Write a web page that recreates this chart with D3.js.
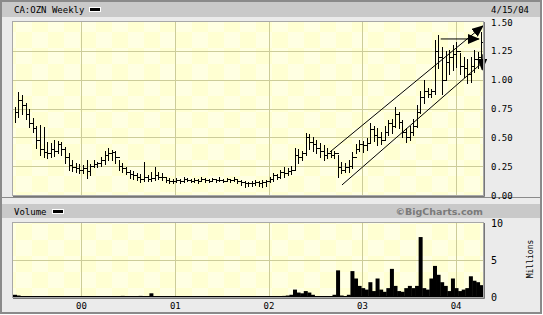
<!DOCTYPE html>
<html>
<head>
<meta charset="utf-8">
<script src="https://cdn.jsdelivr.net/npm/d3@7"></script>
<style>
  body { margin: 0; background: #fff; }
  svg { display: block; }
  text { font-family: "DejaVu Sans Mono", monospace; font-size: 9px; fill: #000; }
</style>
</head>
<body>
<svg width="543" height="315"></svg>
<script>
// weekly chart, one bar every two weeks
const startDate = new Date(1999, 3, 16);

const priceHigh = [
  .76,.89,.87,.80,.75,.67,.60,.61,.59,.46,.45,.48,.47,.46,.42,.36,.30,.28,.27,
  .26,.30,.27,.30,.29,.33,.38,.41,.39,.38,.30,.28,.24,.22,.21,.19,.18,.29,.17,.20,.24,.20,.19,.16,.15,.14,
  .15,.14,.16,.15,.14,.15,.14,.16,.15,.14,.15,.14,.16,.14,.15,.14,.16,.14,.13,.12,.11,.12,.13,.12,.13,.13,
  .16,.19,.18,.22,.24,.23,.25,.41,.40,.38,.54,.53,.50,.48,.45,.43,.41,.39,.38,.35,.29,.28,.30,.37,.44,.48,
  .47,.49,.62,.60,.58,.55,.60,.65,.66,.76,.72,.65,.58,.60,.66,.78,.90,1.00,.93,.92,1.34,1.39,1.28,1.25,1.26,1.30,
  1.33,1.23,1.20,1.18,1.20,1.26,1.24,1.41
];
const priceLow = [
  .63,.68,.70,.66,.59,.55,.41,.35,.33,.32,.33,.34,.36,.35,.28,.22,.21,.20,.19,
  .19,.15,.17,.24,.24,.25,.27,.30,.30,.28,.22,.20,.18,.15,.14,.13,.11,.12,.12,.12,.13,.14,.13,.11,.10,.10,
  .11,.10,.11,.12,.11,.11,.10,.12,.11,.11,.12,.11,.12,.11,.12,.11,.12,.10,.09,.07,.08,.08,.09,.08,.07,.08,
  .11,.12,.14,.15,.16,.17,.18,.22,.28,.30,.35,.40,.38,.36,.33,.30,.32,.33,.32,.16,.19,.20,.20,.23,.36,.38,
  .37,.39,.45,.47,.43,.44,.48,.52,.54,.59,.58,.50,.46,.48,.52,.59,.71,.80,.85,.85,.88,1.10,.88,1.00,1.05,1.08,
  1.11,1.05,1.02,.97,.98,1.07,1.10,1.15
];
const priceClose = [
  .72,.82,.78,.70,.62,.58,.48,.40,.37,.36,.40,.38,.44,.40,.33,.26,.24,.23,.22,
  .23,.21,.25,.27,.28,.30,.35,.36,.37,.33,.25,.23,.20,.18,.17,.16,.14,.16,.14,.15,.17,.16,.16,.13,.12,.12,
  .13,.12,.14,.13,.12,.13,.12,.14,.13,.12,.14,.13,.13,.12,.14,.13,.14,.12,.11,.10,.10,.10,.11,.10,.11,.12,
  .14,.17,.16,.20,.19,.21,.22,.35,.33,.36,.50,.46,.44,.41,.38,.35,.36,.35,.36,.24,.22,.24,.25,.33,.40,.44,
  .43,.45,.57,.52,.50,.48,.55,.62,.60,.70,.63,.55,.50,.55,.60,.72,.85,.90,.88,.90,1.25,1.20,1.00,1.15,1.20,1.22,
  1.25,1.12,1.10,1.05,1.12,1.18,1.20,1.33
];
// millions of shares
const volume = [
  .3,.2,.1,.05,.05,.05,.05,.05,.05,.05,.05,.05,.05,.05,.05,.05,.1,.05,.05,
  .05,.05,.05,.05,.05,.05,.05,.05,.05,.05,.05,.15,.05,.05,.05,.05,.15,.05,.05,.5,.05,.05,.05,.05,.05,.05,
  .1,.05,.05,.05,.05,.05,.05,.05,.05,.05,.05,.05,.05,.05,.05,.05,.05,.05,.05,.05,.05,.05,.05,.05,.05,.05,
  .05,.05,.1,.1,.15,.2,.3,1.0,.6,.5,.8,.6,.3,.1,.1,.05,.1,.1,.3,3.6,.2,.1,.3,3.5,2.5,1.5,
  1.2,1.0,2.0,.8,2.5,1.0,.7,1.2,3.8,1.5,.8,.7,1.2,1.5,1.2,1.5,8.1,1.2,1.0,2.5,4.2,3.0,2.0,1.5,.8,2.5,
  1.2,.8,1.0,1.2,2.8,2.2,2.0,1.6
];

const priceTicks = [0, 0.25, 0.5, 0.75, 1.0, 1.25, 1.5];
const volumeTicks = [0, 5, 10];
const yearTicks = [new Date(2000, 0, 1), new Date(2001, 0, 1), new Date(2002, 0, 1), new Date(2003, 0, 1), new Date(2004, 0, 1)];
const yearLabels = ['00', '01', '02', '03', '04'];

// channel drawn on the chart: [date, price] pairs
const upperTrend = [[new Date(2002, 7, 27), 0.373], [new Date(2004, 3, 15), 1.466]];
const lowerTrend = [[new Date(2002, 9, 13), 0.087], [new Date(2004, 3, 11), 1.145]];
const flatArrow = [[new Date(2003, 10, 2), 1.353], [new Date(2004, 2, 30), 1.353]];
const downArrow = [[new Date(2004, 3, 12), 1.22], [new Date(2004, 3, 12), 1.085]];

const dates = d3.range(priceClose.length).map(i => d3.timeDay.offset(startDate, 14 * i));

const svg = d3.select('svg');
const W = 543, H = 315;

// frame + bands
svg.append('rect').attr('x', 0).attr('y', 0).attr('width', W).attr('height', H).attr('fill', '#fff');
svg.append('rect').attr('x', 1).attr('y', 1).attr('width', 540).attr('height', 312)
  .attr('fill', '#ebebeb').attr('stroke', '#8a8a8a').attr('stroke-width', 2);
svg.append('rect').attr('x', 2).attr('y', 2).attr('width', 538).attr('height', 15).attr('fill', '#c9c9c9');
svg.append('line').attr('x1', 2).attr('x2', 540).attr('y1', 197.5).attr('y2', 197.5).attr('stroke', '#8a8a8a');
svg.append('rect').attr('x', 2).attr('y', 204).attr('width', 538).attr('height', 14).attr('fill', '#c9c9c9');

// background pattern
const defs = svg.append('defs');
const pat = defs.append('pattern').attr('id', 'chk').attr('patternUnits', 'userSpaceOnUse')
  .attr('width', 32).attr('height', 32);
pat.append('rect').attr('width', 32).attr('height', 32).attr('fill', '#ffffd2');
pat.append('rect').attr('width', 16).attr('height', 16).attr('fill', '#ffffe2');
pat.append('rect').attr('x', 16).attr('y', 16).attr('width', 16).attr('height', 16).attr('fill', '#ffffe2');

const mk = defs.append('marker').attr('id', 'arr').attr('viewBox', '0 0 12 10')
  .attr('refX', 11).attr('refY', 5).attr('markerWidth', 12).attr('markerHeight', 10)
  .attr('markerUnits', 'userSpaceOnUse').attr('orient', 'auto');
mk.append('path').attr('d', 'M0,0L12,5L0,10Z').attr('fill', '#000');

const left = 13, right = 483;
const x = d3.scaleTime().domain([new Date(1999, 3, 9), new Date(2004, 3, 15)]).range([left, right]);
const yP = d3.scaleLinear().domain([0, 1.5]).range([195, 22]);
const yV = d3.scaleLinear().domain([0, 10]).range([297, 223]);

const panel = (y0, y1, yScale, ticks) => {
  const g = svg.append('g');
  g.append('rect').attr('x', left).attr('y', y0).attr('width', right - left).attr('height', y1 - y0)
    .attr('fill', 'url(#chk)');
  g.selectAll('.hg').data(ticks).enter().append('line')
    .attr('x1', left).attr('x2', right)
    .attr('y1', d => Math.round(yScale(d)) + 0.5).attr('y2', d => Math.round(yScale(d)) + 0.5)
    .attr('stroke', '#cccc99');
  g.selectAll('.vg').data(yearTicks).enter().append('line')
    .attr('x1', d => Math.round(x(d)) + 0.5).attr('x2', d => Math.round(x(d)) + 0.5)
    .attr('y1', y0).attr('y2', y1)
    .attr('stroke', '#cccc99');
  return g;
};

const priceG = panel(22, 195, yP, priceTicks.slice(1, -1));
const volG = panel(223, 297, yV, [5]);

// price bars
const bars = priceG.append('g').attr('stroke', '#000').attr('stroke-width', 1).attr('shape-rendering', 'crispEdges');
dates.forEach((d, i) => {
  const cx = Math.round(x(d)) + 0.5;
  bars.append('line').attr('x1', cx).attr('x2', cx)
    .attr('y1', yP(priceHigh[i])).attr('y2', yP(priceLow[i]) + 1);
  bars.append('line').attr('x1', cx).attr('x2', cx + 2)
    .attr('y1', Math.round(yP(priceClose[i])) + 0.5).attr('y2', Math.round(yP(priceClose[i])) + 0.5);
  if (i > 0) {
    bars.append('line').attr('x1', cx - 2).attr('x2', cx)
      .attr('y1', Math.round(yP(priceClose[i - 1])) + 0.5).attr('y2', Math.round(yP(priceClose[i - 1])) + 0.5);
  }
});

// channel + arrows
const line = d3.line().x(d => x(d[0])).y(d => yP(d[1]));
[upperTrend, lowerTrend].forEach(t => {
  svg.append('path').attr('d', line(t)).attr('fill', 'none').attr('stroke', '#000').attr('stroke-width', 1);
});
svg.append('path').attr('d', line(upperTrend)).attr('fill', 'none').attr('stroke', 'none')
  .attr('marker-end', 'url(#arr)');
[flatArrow, downArrow].forEach(t => {
  svg.append('path').attr('d', line(t)).attr('fill', 'none').attr('stroke', '#000').attr('stroke-width', 1)
    .attr('marker-end', 'url(#arr)');
});

// volume bars
const step = x(dates[1]) - x(dates[0]);
volG.selectAll('.vb').data(volume).enter().append('rect')
  .attr('x', (d, i) => x(dates[i]) - step / 2)
  .attr('width', step + 0.4)
  .attr('y', d => yV(d))
  .attr('height', d => yV(0) - yV(d))
  .attr('fill', '#000');
volG.append('line').attr('x1', left).attr('x2', right).attr('y1', 296.5).attr('y2', 296.5)
  .attr('stroke', '#000');

// plot borders
[[22, 195], [223, 297]].forEach(([a, b]) => {
  svg.append('rect').attr('x', left - 0.5).attr('y', a - 0.5).attr('width', right - left + 1).attr('height', b - a + 1)
    .attr('fill', 'none').attr('stroke', '#a8a8a8');
  svg.append('path').attr('d', `M${left},${b + 1.5}H${right + 1.5}V${a}`)
    .attr('fill', 'none').attr('stroke', '#777');
});

// axis labels
svg.selectAll('.pl').data(priceTicks).enter().append('text')
  .attr('x', 491).attr('y', d => yP(d) + 3.5)
  .text(d => d3.format('.2f')(d));
svg.selectAll('.vl').data(volumeTicks).enter().append('text')
  .attr('x', 491).attr('y', d => yV(d) + 3.5)
  .style('font-size', '10px')
  .text(d => d);
svg.selectAll('.xl').data(yearTicks).enter().append('text')
  .attr('x', d => x(d)).attr('y', 309).attr('text-anchor', 'middle')
  .text((d, i) => yearLabels[i]);
svg.append('text').attr('transform', 'translate(533,259) rotate(-90)').attr('text-anchor', 'middle')
  .style('font-size', '8px').text('Millions');

// titles
svg.append('text').attr('x', 14).attr('y', 13).text('CA:OZN Weekly');
svg.append('text').attr('x', 529).attr('y', 13).attr('text-anchor', 'end').text('4/15/04');
svg.append('text').attr('x', 14).attr('y', 215).text('Volume');
[[89, 9], [52, 211]].forEach(([lx, ly]) => {
  svg.append('rect').attr('x', lx).attr('y', ly - 2).attr('width', 12).attr('height', 5).attr('fill', '#fff');
  svg.append('rect').attr('x', lx + 1).attr('y', ly - 1).attr('width', 10).attr('height', 3).attr('fill', '#000');
});
svg.append('text').attr('x', 483).attr('y', 215).attr('text-anchor', 'end')
  .style('font-family', '"DejaVu Sans", sans-serif').style('font-weight', 'bold').style('font-size', '9.5px')
  .style('fill', '#7a7a7a').text('©BigCharts.com');
</script>
</body>
</html>
